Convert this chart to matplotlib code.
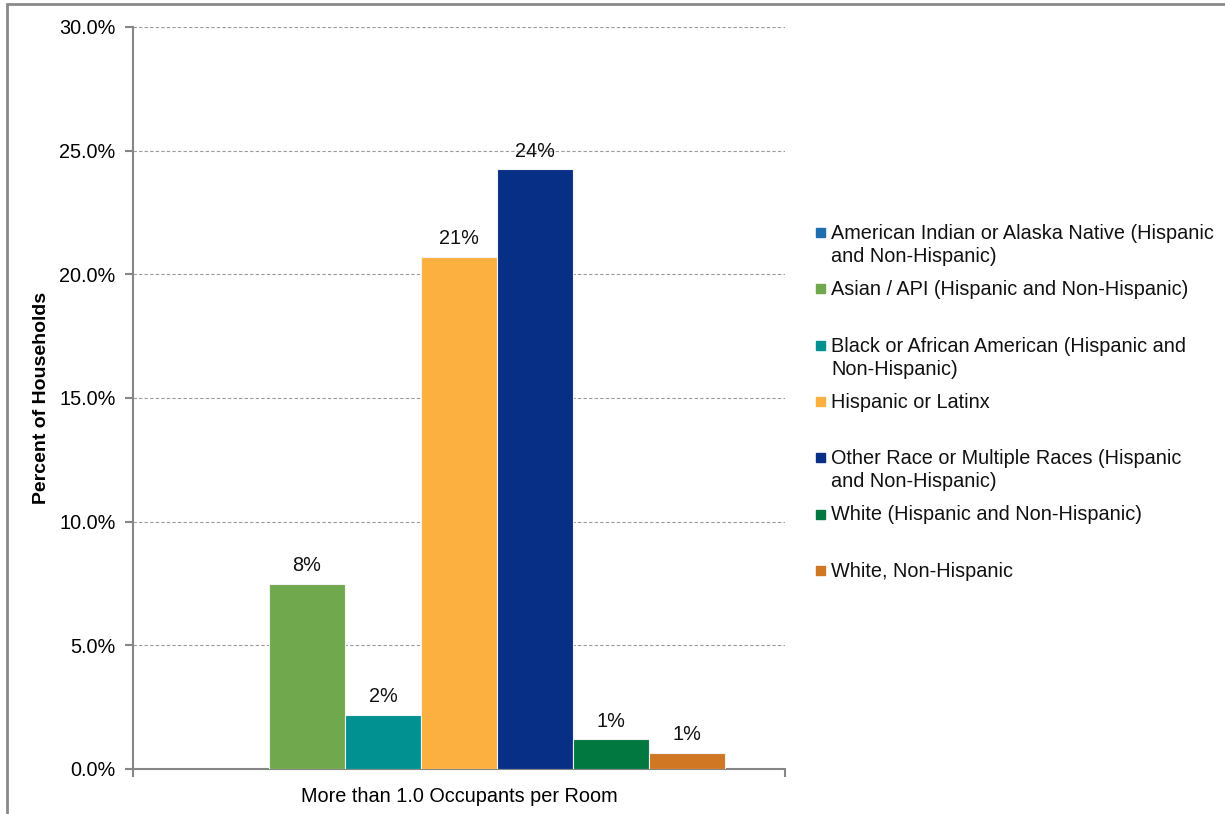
import numpy as np
import matplotlib
matplotlib.use("Agg")
import matplotlib.pyplot as plt
from matplotlib.patches import Rectangle
from matplotlib.ticker import FuncFormatter, MultipleLocator

plt.rcParams['font.family'] = ['Liberation Sans', 'DejaVu Sans']

category = "More than 1.0 Occupants per Room"
groups = [
    "American Indian or Alaska Native (Hispanic\nand Non-Hispanic)",
    "Asian / API (Hispanic and Non-Hispanic)",
    "Black or African American (Hispanic and\nNon-Hispanic)",
    "Hispanic or Latinx",
    "Other Race or Multiple Races (Hispanic\nand Non-Hispanic)",
    "White (Hispanic and Non-Hispanic)",
    "White, Non-Hispanic",
]
values = [np.nan, 7.5, 2.2, 20.7, 24.25, 1.2, 0.65]
colors = ["#1F6FAE", "#70A84E", "#009190", "#FBB040", "#072F86", "#00783F", "#CF7722"]

W, H = 1225, 814
fig = plt.figure(figsize=(W / 100, H / 100), dpi=100)
ax = fig.add_axes([133 / W, 1 - 769 / H, (785 - 133) / W, (769 - 27) / H])

bw = 76 / 652
n = len(values)
for i, (v, c) in enumerate(zip(values, colors)):
    x = (i - (n - 1) / 2) * bw
    if np.isnan(v):
        continue
    ax.bar(x, v, width=bw, color=c, edgecolor="#f2f2f2", linewidth=0.8, zorder=3)
    ax.text(x, v + 0.35, f"{v:.0f}%", ha="center", va="bottom", fontsize=14.3, color="#111111", zorder=4)

ax.set_xlim(-0.5, 0.5)
ax.set_ylim(0, 30)
ax.yaxis.set_major_locator(MultipleLocator(5))
ax.yaxis.set_major_formatter(FuncFormatter(lambda v, p: f"{v:.1f}%"))
ax.yaxis.grid(True, linestyle=(0, (3, 2)), color="#9a9a9a", linewidth=0.8, zorder=0)
ax.set_axisbelow(True)

ax.set_xticks([-0.5, 0.5])
ax.set_xticklabels([])
ax.set_xticks([0], minor=True)
ax.set_xticklabels([category], minor=True, fontsize=14.3)
ax.tick_params(axis="x", which="minor", length=0, pad=13)
ax.tick_params(axis="x", which="major", length=6, color="#868686", width=1.5)
ax.tick_params(axis="y", length=6, color="#868686", width=1.5, labelsize=14.3, pad=6.5)

for s in ["top", "right"]:
    ax.spines[s].set_visible(False)
for s in ["left", "bottom"]:
    ax.spines[s].set_color("#868686")
    ax.spines[s].set_linewidth(1.5)

ax.set_ylabel("Percent of Households", fontsize=14, fontweight="bold", labelpad=7)

# Legend (Excel-style fixed slots)
y0 = 232
step = 56.3
for i, (g, c) in enumerate(zip(groups, colors)):
    yc = y0 + i * step
    fig.patches.append(Rectangle((816 / W, 1 - (yc + 5) / H), 9 / W, 9 / H,
                                 transform=fig.transFigure, color=c, figure=fig))
    fig.text(831 / W, 1 - (yc - 8) / H, g, fontsize=14.3, va="top", ha="left",
             linespacing=1.28, color="#111111")

# Outer frame
fig.patches.append(Rectangle((7 / W, -0.05), 1.1, 1 - 4 / H + 0.05,
                             transform=fig.transFigure, fill=False,
                             edgecolor="#8a8a8a", linewidth=2, figure=fig))

fig.savefig("out.png", dpi=100)
